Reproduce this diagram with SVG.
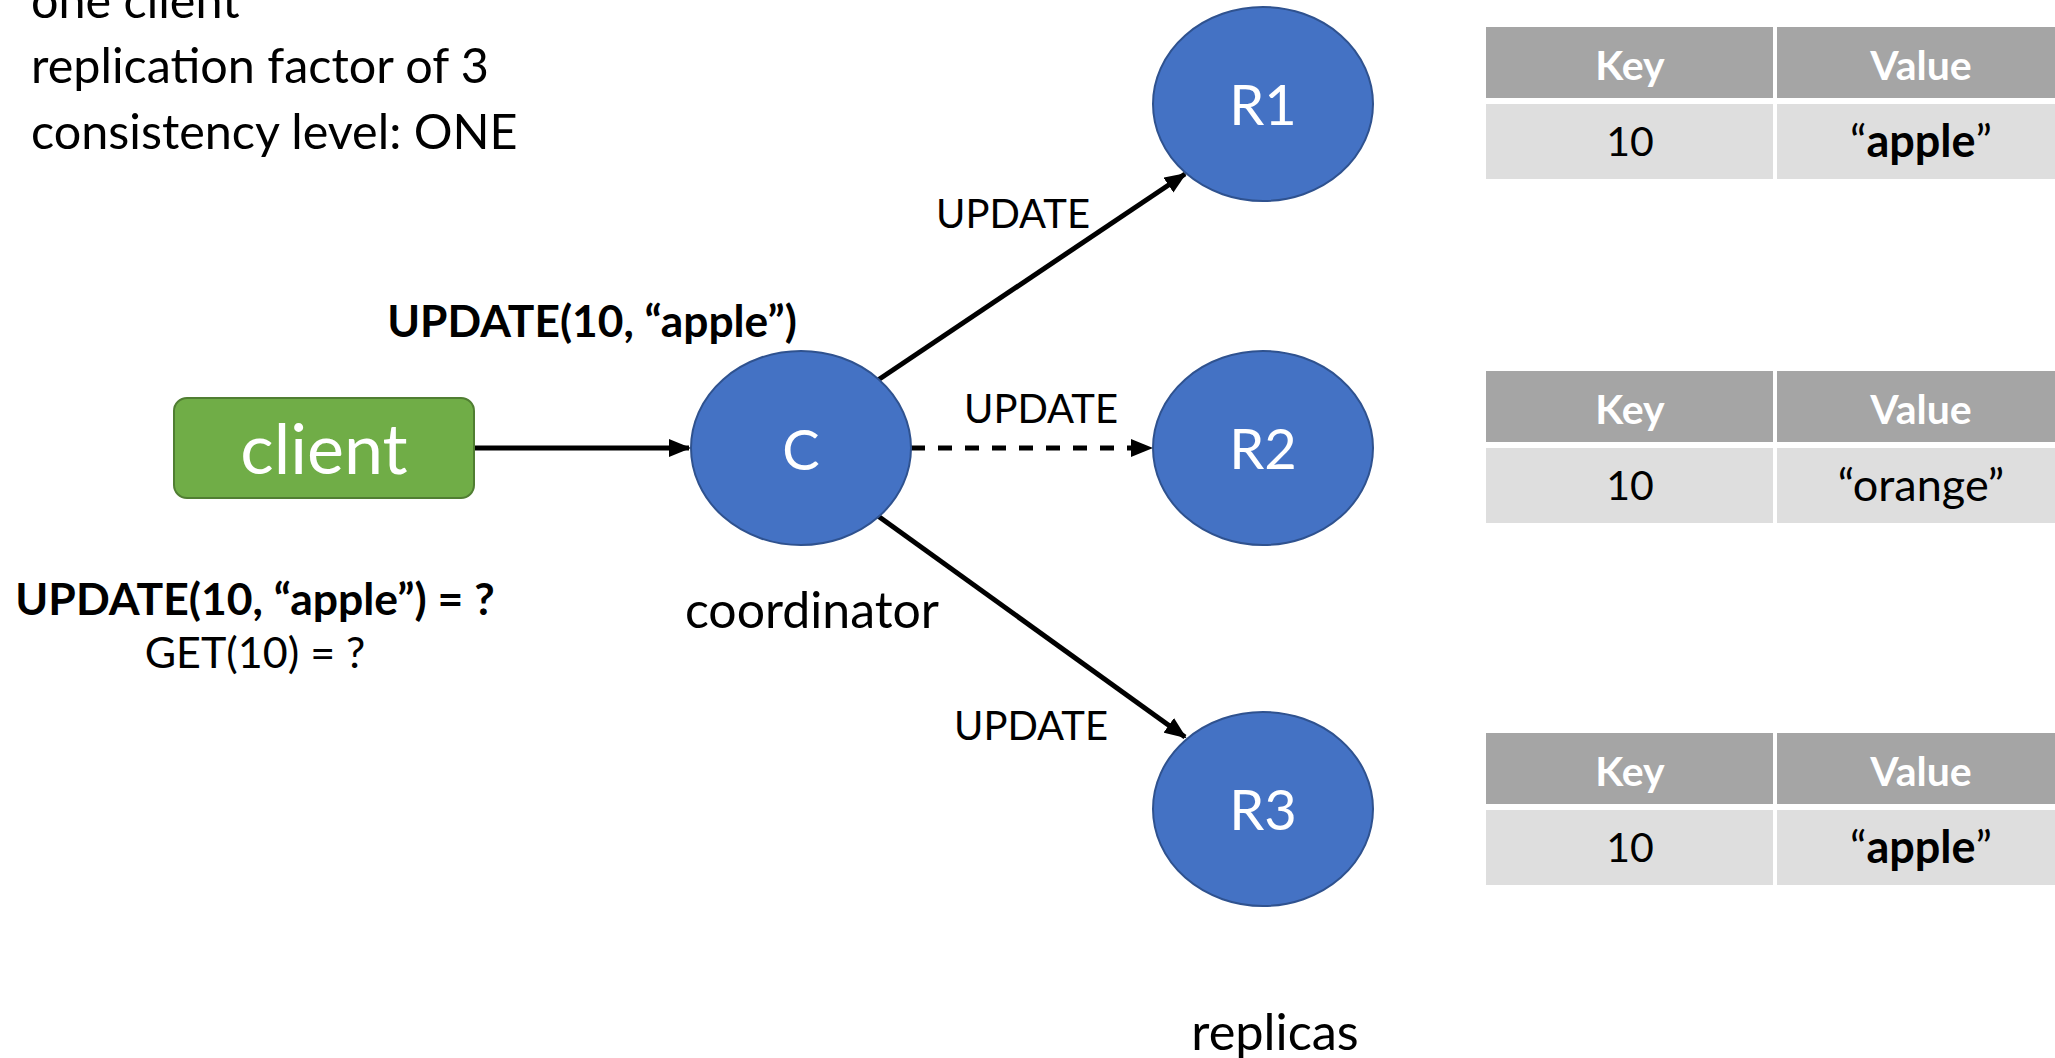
<svg xmlns="http://www.w3.org/2000/svg" width="2055" height="1058" viewBox="0 0 2055 1058">
  <style>
    text { font-family: Lato, "Liberation Sans", sans-serif; fill: #000; }
    .node { fill: #4472C4; stroke: #2F528F; stroke-width: 2; }
    .white { fill: #fff; }
    .lbl { font-size: 40px; }
    .bold { font-weight: bold; }
    .hdr { fill: #A5A5A5; }
    .row { fill: #DEDEDE; }
    .cell { font-size: 41px; text-anchor: middle; }
    .val { font-size: 45px; }
    .edge { stroke: #000; stroke-width: 5; fill: none; marker-end: url(#arrow); }
  </style>
  <defs>
    <marker id="arrow" markerUnits="userSpaceOnUse" markerWidth="22" markerHeight="18" refX="20" refY="9" orient="auto">
      <path d="M0,0 L22,9 L0,18 z" fill="#000"/>
    </marker>
  </defs>
  <rect width="2055" height="1058" fill="#fff"/>

  <!-- settings -->
  <g id="settings" font-size="48.5">
    <text x="31" y="18">one client</text>
    <text x="31" y="83">replication factor of 3</text>
    <text x="31" y="149">consistency level: ONE</text>
  </g>

  <!-- connectors -->
  <g id="connectors">
    <line class="edge" x1="474" y1="448" x2="689" y2="448"/>
    <line class="edge" x1="878" y1="380" x2="1185" y2="174"/>
    <line class="edge" x1="911" y1="448" x2="1151" y2="448" stroke-dasharray="14 13"/>
    <line class="edge" x1="878" y1="516" x2="1185" y2="737"/>
  </g>

  <!-- labels -->
  <g id="labels">
    <text class="lbl" x="1013" y="228" text-anchor="middle">UPDATE</text>
    <text class="lbl" x="1041" y="423" text-anchor="middle">UPDATE</text>
    <text class="lbl" x="1031" y="740" text-anchor="middle">UPDATE</text>
    <text class="bold" x="592" y="337" font-size="44.3" text-anchor="middle">UPDATE(10, “apple”)</text>
    <text class="bold" x="255" y="615" font-size="44.5" text-anchor="middle">UPDATE(10, “apple”) = ?</text>
    <text x="255" y="668" font-size="43" text-anchor="middle">GET(10) = ?</text>
    <text x="812" y="628" font-size="50" text-anchor="middle">coordinator</text>
    <text x="1275" y="1050" font-size="50.5" text-anchor="middle">replicas</text>
  </g>

  <!-- client -->
  <g id="client">
    <rect x="174" y="398" width="300" height="100" rx="13" fill="#70AD47" stroke="#507E32" stroke-width="2"/>
    <text class="white" x="324" y="474" font-size="70" text-anchor="middle">client</text>
  </g>

  <!-- coordinator -->
  <g id="node-c">
    <ellipse class="node" cx="801" cy="448" rx="110" ry="97"/>
    <text class="white" x="801" y="470" font-size="56" text-anchor="middle">C</text>
  </g>

  <!-- replicas -->
  <g id="node-r1">
    <ellipse class="node" cx="1263" cy="104" rx="110" ry="97"/>
    <text class="white" x="1263" y="125" font-size="56" text-anchor="middle">R1</text>
  </g>
  <g id="node-r2">
    <ellipse class="node" cx="1263" cy="448" rx="110" ry="97"/>
    <text class="white" x="1263" y="469" font-size="56" text-anchor="middle">R2</text>
  </g>
  <g id="node-r3">
    <ellipse class="node" cx="1263" cy="809" rx="110" ry="97"/>
    <text class="white" x="1263" y="830" font-size="56" text-anchor="middle">R3</text>
  </g>

  <!-- key/value store of R1 -->
  <g id="table-r1">
    <rect class="hdr" x="1486" y="27" width="287" height="71"/>
    <rect class="hdr" x="1777" y="27" width="290" height="71"/>
    <rect class="row" x="1486" y="104" width="287" height="75"/>
    <rect class="row" x="1777" y="104" width="290" height="75"/>
    <text class="cell bold white" x="1630" y="80">Key</text>
    <text class="cell bold white" x="1921" y="80">Value</text>
    <text class="cell" x="1630" y="156">10</text>
    <text class="cell val" x="1921" y="157">“<tspan class="bold">apple</tspan>”</text>
  </g>

  <!-- key/value store of R2 -->
  <g id="table-r2">
    <rect class="hdr" x="1486" y="371" width="287" height="71"/>
    <rect class="hdr" x="1777" y="371" width="290" height="71"/>
    <rect class="row" x="1486" y="448" width="287" height="75"/>
    <rect class="row" x="1777" y="448" width="290" height="75"/>
    <text class="cell bold white" x="1630" y="424">Key</text>
    <text class="cell bold white" x="1921" y="424">Value</text>
    <text class="cell" x="1630" y="500">10</text>
    <text class="cell val" x="1921" y="501">“orange”</text>
  </g>

  <!-- key/value store of R3 -->
  <g id="table-r3">
    <rect class="hdr" x="1486" y="733" width="287" height="71"/>
    <rect class="hdr" x="1777" y="733" width="290" height="71"/>
    <rect class="row" x="1486" y="810" width="287" height="75"/>
    <rect class="row" x="1777" y="810" width="290" height="75"/>
    <text class="cell bold white" x="1630" y="786">Key</text>
    <text class="cell bold white" x="1921" y="786">Value</text>
    <text class="cell" x="1630" y="862">10</text>
    <text class="cell val" x="1921" y="863">“<tspan class="bold">apple</tspan>”</text>
  </g>
</svg>
